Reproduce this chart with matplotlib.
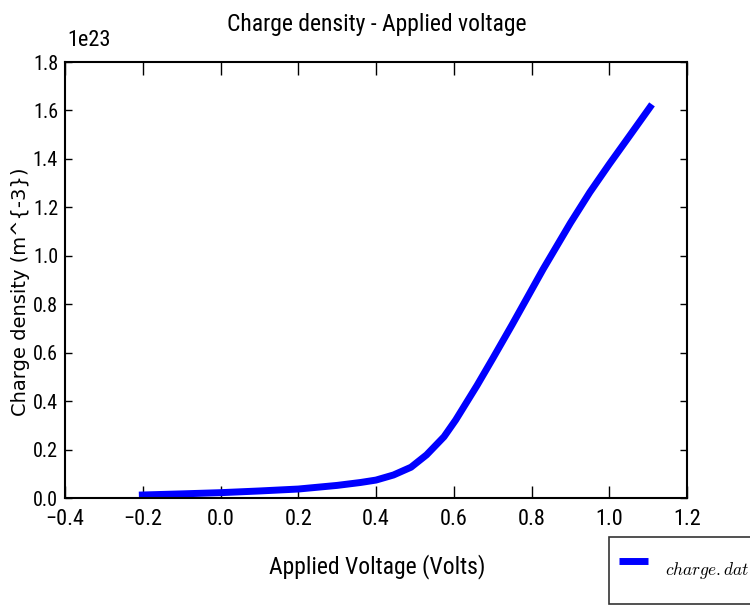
import matplotlib
matplotlib.use("Agg")
import matplotlib.pyplot as plt
from matplotlib import font_manager
from matplotlib.font_manager import FontProperties

# Charge density vs applied voltage (units of 1e23 m^-3)
voltage = [-0.21, -0.10, 0.00, 0.10, 0.20, 0.30, 0.36, 0.40, 0.445, 0.49,
           0.53, 0.575, 0.605, 0.635, 0.66, 0.70, 0.75, 0.79, 0.83, 0.865,
           0.90, 0.95, 1.00, 1.05, 1.11]
density = [0.012, 0.017, 0.022, 0.029, 0.037, 0.052, 0.064, 0.074, 0.095, 0.127,
           0.178, 0.253, 0.322, 0.400, 0.465, 0.575, 0.715, 0.830, 0.945, 1.040,
           1.135, 1.262, 1.378, 1.490, 1.625]
scale = 1e23

xticks = [-0.4, -0.2, 0.0, 0.2, 0.4, 0.6, 0.8, 1.0, 1.2]
yticks = [0.0, 0.2, 0.4, 0.6, 0.8, 1.0, 1.2, 1.4, 1.6, 1.8]


def narrow_font():
    """Pick the narrowest regular sans face available."""
    prefs = ["NotoSans-ExtraCondensed.", "NotoSans-Condensed.",
             "LiberationSansNarrow-Regular", "RobotoCondensed-Regular",
             "DejaVuSansCondensed.", "OpenSans-CondensedRegular",
             "NotoSans-SemiCondensed."]
    files = [f.fname for f in font_manager.fontManager.ttflist]
    for p in prefs:
        for fn in files:
            if p in fn.split("/")[-1]:
                return fn, True
    return None, False


fname, found = narrow_font()


def fp(size):
    if found:
        return FontProperties(fname=fname, size=size)
    return FontProperties(family="DejaVu Sans", size=size * 0.8)


plt.rcParams["mathtext.fontset"] = "cm"

fig = plt.figure(figsize=(7.5, 6.05), dpi=100)
ax = fig.add_axes([65 / 750, 1 - 498 / 605, (687 - 65) / 750, (498 - 62) / 605])

ax.plot(voltage, [d * scale for d in density],
        color="#0000ff", linewidth=5, solid_capstyle="butt",
        solid_joinstyle="round", label="$charge.dat$")

ax.set_xlim(-0.4, 1.2)
ax.set_ylim(0, 1.8 * scale)
ax.set_xticks(xticks)
ax.set_yticks([t * scale for t in yticks])
ax.set_xticklabels([f"{t:.1f}".replace("-", "\u2212") for t in xticks],
                   fontproperties=fp(16))
ax.set_yticklabels([f"{t:.1f}" for t in yticks], fontproperties=fp(14.5))

ax.tick_params(axis="x", direction="in", length=9, width=1, top=True, pad=8)
ax.tick_params(axis="y", direction="in", length=5, width=1, right=True, pad=5)
for s in ax.spines.values():
    s.set_linewidth(1.5)

fig.text(67 / 750, 1 - 41 / 605, "1e23", fontproperties=fp(16),
         ha="left", va="center")

fig.text(377 / 750, 1 - 25 / 605, "Charge density - Applied voltage",
         fontproperties=fp(17), ha="center", va="center")
fig.text(377 / 750, 1 - 567 / 605, "Applied Voltage (Volts)",
         fontproperties=fp(17), ha="center", va="center")
fig.text(21 / 750, 1 - 292 / 605, "Charge density (m^{-3})",
         family="DejaVu Sans", fontsize=14, rotation=90,
         ha="center", va="center")

leg = fig.legend(loc="upper left", bbox_to_anchor=(609 / 750, 1 - 537 / 605),
                 borderaxespad=0, fancybox=False, handlelength=1.65,
                 handleheight=3.7, handletextpad=1.0, borderpad=0.6,
                 prop={"size": 12.5})
leg.get_frame().set_edgecolor("black")
leg.get_frame().set_linewidth(1.2)

fig.savefig("out.png", dpi=100)
